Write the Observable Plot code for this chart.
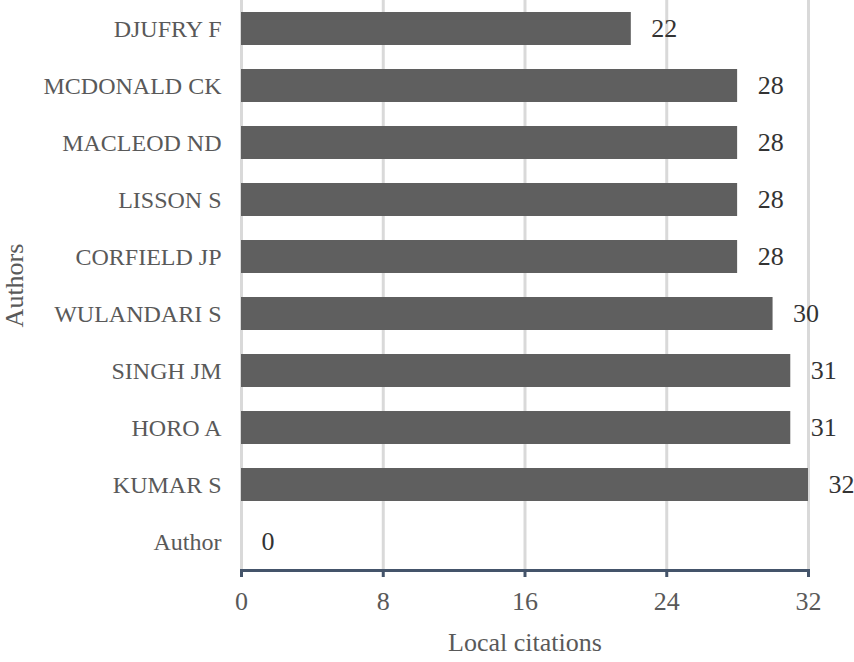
<!DOCTYPE html>
<html>
<head>
<meta charset="utf-8">
<script src="https://cdn.jsdelivr.net/npm/d3@7"></script>
<script src="https://cdn.jsdelivr.net/npm/@observablehq/plot@0.6"></script>
<style>
  body { margin: 0; background: #fff; }
  #chart svg { display: block; }
</style>
</head>
<body>
<div id="chart"></div>
<script>
const authors = ["DJUFRY F", "MCDONALD CK", "MACLEOD ND", "LISSON S", "CORFIELD JP", "WULANDARI S", "SINGH JM", "HORO A", "KUMAR S", "Author"];
const citations = [22, 28, 28, 28, 28, 30, 31, 31, 32, 0];
const xTicks = [0, 8, 16, 24, 32];

const data = authors.map((a, i) => ({author: a, value: citations[i]}));
const FONT = "Liberation Serif";

const chart = Plot.plot({
  width: 854,
  height: 662,
  marginTop: 0,
  marginBottom: 92,
  marginLeft: 241,
  marginRight: 46,
  style: {background: "#fff", fontFamily: FONT},
  x: {domain: [0, 32], ticks: xTicks, label: null},
  y: {domain: authors, paddingInner: 0.42, paddingOuter: 0.21, label: null},
  marks: [
    Plot.ruleX(xTicks, {stroke: "#d9d9d9", strokeWidth: 3}),
    Plot.barX(data, {x: "value", y: "author", fill: "#5f5f5f"}),
    Plot.text(data, {x: "value", y: "author", text: d => String(d.value), textAnchor: "start", dx: 20, fill: "#333", fontSize: 26, fontFamily: FONT}),
    Plot.frame({anchor: "bottom", stroke: "#44546a", strokeWidth: 3}),
    Plot.axisX({ticks: xTicks, tickSize: 7, stroke: "#44546a", strokeWidth: 3, tickPadding: 14, fontSize: 26, fontFamily: FONT, fill: "#595959", tickFormat: d => String(d), label: null}),
    Plot.axisY({tickSize: 0, tickPadding: 20, fontSize: 24, fontFamily: FONT, fill: "#595959", label: null}),
    Plot.text(["Local citations"], {frameAnchor: "bottom", dy: 80, fontSize: 26, fontFamily: FONT, fill: "#595959"}),
    Plot.text(["Authors"], {frameAnchor: "left", textAnchor: "middle", dx: -227, rotate: -90, fontSize: 26, fontFamily: FONT, fill: "#595959"})
  ]
});
chart.querySelectorAll("text, g").forEach(el => el.style.setProperty("font-family", FONT, "important"));
document.getElementById("chart").appendChild(chart);
</script>
</body>
</html>
